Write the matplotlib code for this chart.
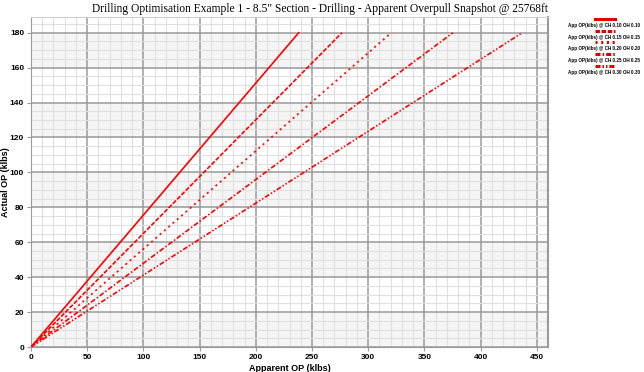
import numpy as np
import matplotlib
matplotlib.use('Agg')
import matplotlib.pyplot as plt
from matplotlib.lines import Line2D
from matplotlib.ticker import MultipleLocator

plt.rcParams['lines.scale_dashes'] = False
plt.rcParams['font.family'] = ['Liberation Sans', 'DejaVu Sans']

# apparent overpull (x) vs actual overpull (y), one line per CH/OH pair
labels = ['App OP(klbs) @ CH 0.10 OH 0.10', 'App OP(klbs) @ CH 0.15 OH 0.15',
          'App OP(klbs) @ CH 0.20 OH 0.20', 'App OP(klbs) @ CH 0.25 OH 0.25',
          'App OP(klbs) @ CH 0.30 OH 0.30']
actual_op = [0, 180]
apparent_op = [
    [0, 238.2],
    [0, 276.7],
    [0, 320.6],
    [0, 375.4],
    [0, 437.1],
]
styles = ['-', (0, (3.2, 1.2)), (0, (1.5, 2.6)), (0, (3.6, 1.5, 1.1, 1.5)),
          (0, (3.6, 1.4, 1.1, 1.4, 1.1, 1.4))]

fig = plt.figure(figsize=(6.44, 3.72), dpi=100)
ax = fig.add_axes([31 / 644, 25 / 372, 517 / 644, 330 / 372])

for lo in range(0, 180, 40):
    ax.axhspan(lo, lo + 20, color='#f5f5f5', zorder=0)

ax.set_xlim(0, 460)
ax.set_ylim(0, 189)
ax.xaxis.set_major_locator(MultipleLocator(50))
ax.xaxis.set_minor_locator(MultipleLocator(10))
ax.yaxis.set_major_locator(MultipleLocator(20))
ax.yaxis.set_minor_locator(MultipleLocator(5))
ax.grid(which='major', color='#9a9a9a', lw=1.1, zorder=1)
ax.grid(which='minor', color='#e0e0e0', lw=0.8, zorder=1)
ax.set_axisbelow(True)
ax.tick_params(which='major', length=3, color='#9a9a9a', labelsize=6, pad=2)
ax.tick_params(which='minor', length=0)
for t in ax.get_xticklabels() + ax.get_yticklabels():
    t.set_fontweight('bold')
for s in ax.spines.values():
    s.set_color('#9a9a9a')
ax.spines['top'].set_color('#d0d0d0')
ax.spines['right'].set_linewidth(1.5)

for xs, ls in zip(apparent_op, styles):
    ax.plot(xs, actual_op, color='#ff0000', lw=1.2, linestyle=ls, zorder=3)

ax.set_xlabel('Apparent OP (klbs)', fontsize=6.5, fontweight='bold')
ax.set_ylabel('Actual OP (klbs)', fontsize=6.5, fontweight='bold')
ax.xaxis.set_label_coords(0.5, -17 / 330)
ax.yaxis.set_label_coords(-21 / 517, 0.5)
fig.text(320 / 644, 1 - 3 / 372,
         'Drilling Optimisation Example 1 - 8.5" Section - Drilling - Apparent Overpull Snapshot @ 25768ft',
         ha='center', va='top', fontsize=8.3, family='Liberation Serif')

# legend: sample line centred above each label
for i, (lab, ls) in enumerate(zip(labels, styles)):
    yl = 1 - (19 + 11.7 * i) / 372
    yt = 1 - (25.5 + 11.7 * i) / 372
    fig.add_artist(Line2D([595 / 644, 615 / 644], [yl, yl], color='#e00000', lw=2.2, linestyle=ls))
    fig.text(604 / 644, yt, lab, ha='center', va='center', fontsize=3.3, fontweight='bold')

fig.savefig('out.png', dpi=100)
